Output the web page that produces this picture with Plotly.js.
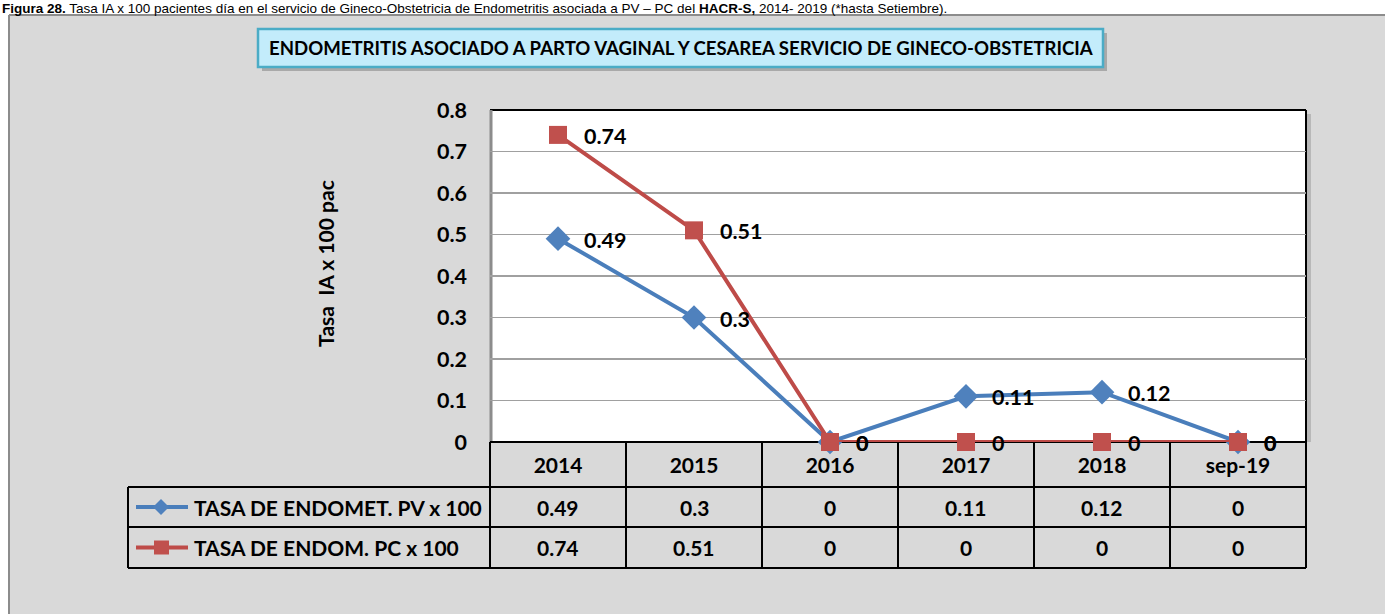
<!DOCTYPE html>
<html><head><meta charset="utf-8">
<script src="https://cdn.plot.ly/plotly-3.0.1.min.js"></script>
<style>html,body{margin:0;padding:0;background:#fff;overflow:hidden}#chart{width:1385px;height:614px}</style>
</head><body><div id="chart"></div>
<script>
// ---- data ----
const categories = ['2014', '2015', '2016', '2017', '2018', 'sep-19'];
const pvValues = [0.49, 0.3, 0, 0.11, 0.12, 0];
const pcValues = [0.74, 0.51, 0, 0, 0, 0];
const seriesNames = ['TASA DE ENDOMET. PV x 100', 'TASA DE ENDOM. PC x 100'];
const yTickVals = [0, 0.1, 0.2, 0.3, 0.4, 0.5, 0.6, 0.7, 0.8];
const chartTitle = 'ENDOMETRITIS ASOCIADO A PARTO VAGINAL Y CESAREA SERVICIO DE GINECO-OBSTETRICIA';
const yTitle = 'Tasa\u00a0 IA x 100 pac';
const captionText = '<b>Figura 28.</b> Tasa IA x 100 pacientes día en el servicio de Gineco-Obstetricia de Endometritis asociada a PV – PC del <b>HACR-S,</b> 2014- 2019 (*hasta Setiembre).';

// ---- styles ----
const W = 1385, H = 614;
const L = 490, R = 1306, T = 110, B = 442;
const FONT = 'Lato, Carlito, "Open Sans", sans-serif';
const blue = '#4f81bd', red = '#c0504d';
const px = x => (x - L) / (R - L);
const py = y => (B - y) / (B - T);

const series = [
  {name: seriesNames[0], values: pvValues, color: blue, symbol: 'diamond', size: 19, lineColor: '#4a7ebb'},
  {name: seriesNames[1], values: pcValues, color: red, symbol: 'square', size: 18, lineColor: '#be4b48'}
];

const traces = series.map(s => ({
  type: 'scatter', mode: 'lines+markers', name: s.name,
  x: categories, y: s.values, cliponaxis: false,
  line: {color: s.lineColor, width: 4},
  marker: {symbol: s.symbol, size: s.size, color: s.color},
  hoverinfo: 'x+y'
}));

const shapes = [];
const rect = (x0, y0, x1, y1, fill, line, lw) => shapes.push({type: 'rect', xref: 'paper', yref: 'paper', layer: 'below',
  x0: px(x0), x1: px(x1), y0: py(y0), y1: py(y1), fillcolor: fill, line: {color: line || 'rgba(0,0,0,0)', width: lw || 0}});
const seg = (x0, y0, x1, y1, color, w, layer) => shapes.push({type: 'line', xref: 'paper', yref: 'paper', layer: layer || 'below',
  x0: px(x0), x1: px(x1), y0: py(y0), y1: py(y1), line: {color: color, width: w}});

// outer gray frame
rect(9, 15, 1400, 630, '#d9d9d9');
seg(9, 15, 9, 630, '#8c8c8c', 2);
seg(9, 15, 1400, 15, '#8c8c8c', 2);
// title box (shadow + box)
rect(262, 33, 1107, 71, '#a9a9a9');
rect(258, 29, 1103, 67, '#c3ecfb', '#4bacc6', 2.5);
// plot area shadow and white background
rect(1306, 114, 1311, 442, '#b8b8b8');
rect(L, T, R, B, '#ffffff');
// plot borders
seg(L, T, R, T, '#000', 2);
seg(R, T, R, B, '#000', 2);
seg(L + 1, T, L + 1, B, '#8c8c8c', 3);
// data table grid
const colW = (R - L) / categories.length;
const rowY = [B, 487, 527, 568];
seg(L, B, R, B, '#000', 2);
for (let r = 1; r < rowY.length; r++) seg(128, rowY[r], R, rowY[r], '#000', 2);
seg(128, rowY[1], 128, rowY[3], '#000', 2);
for (let c = 0; c <= categories.length; c++) seg(L + c * colW, B, L + c * colW, rowY[3], '#000', 2);

// legend samples in the table
const legendMid = [(rowY[1] + rowY[2]) / 2, (rowY[2] + rowY[3]) / 2];
series.forEach((s, i) => {
  const yc = legendMid[i];
  seg(136, yc, 188, yc, s.lineColor, 4);
  if (s.symbol === 'diamond') {
    const cx = 161, h = 8;
    shapes.push({type: 'path', xref: 'paper', yref: 'paper', layer: 'below',
      path: `M ${px(cx)} ${py(yc - h)} L ${px(cx + h)} ${py(yc)} L ${px(cx)} ${py(yc + h)} L ${px(cx - h)} ${py(yc)} Z`,
      fillcolor: s.color, line: {width: 0}});
  } else {
    rect(154, yc - 7, 169, yc + 7, s.color);
  }
});

const annotations = [];
// caption at top
annotations.push({xref: 'paper', yref: 'paper', x: px(0), y: py(-1), xanchor: 'left', yanchor: 'top',
  text: captionText, showarrow: false, font: {family: 'Liberation Sans, Arial, sans-serif', size: 13.5, color: '#000'}});
// chart title
annotations.push({xref: 'paper', yref: 'paper', x: px(681), y: py(48), xanchor: 'center', yanchor: 'middle',
  text: '<b>' + chartTitle + '</b>', showarrow: false, font: {family: FONT, size: 18.6, color: '#000'}});
// data labels (x as category index)
series.forEach(s => s.values.forEach((v, j) => {
  annotations.push({xref: 'x', yref: 'y', x: j, y: v, xanchor: 'left', yanchor: 'middle',
    xshift: 24, yshift: -1, text: '<b>' + v + '</b>', showarrow: false, font: {family: FONT, size: 21.5, color: '#000'}});
}));
// table values & legend names
series.forEach((s, i) => {
  const yc = legendMid[i];
  annotations.push({xref: 'paper', yref: 'paper', x: px(192), y: py(yc), xanchor: 'left', yanchor: 'middle',
    text: '<b>' + s.name + '</b>', showarrow: false, font: {family: FONT, size: 21, color: '#000'}});
  s.values.forEach((v, j) => {
    annotations.push({xref: 'x', yref: 'paper', x: j, y: py(yc), xanchor: 'center', yanchor: 'middle',
      text: '<b>' + v + '</b>', showarrow: false, font: {family: FONT, size: 21, color: '#000'}});
  });
});

const layout = {
  width: W, height: H,
  margin: {l: L, r: W - R, t: T, b: H - B, pad: 0},
  paper_bgcolor: '#ffffff', plot_bgcolor: 'rgba(0,0,0,0)',
  showlegend: false,
  xaxis: {type: 'category', range: [-0.5, categories.length - 0.5], showgrid: false, zeroline: false,
    showline: false, ticks: '', ticklabelstandoff: 9, layer: 'below traces',
    tickfont: {family: FONT, size: 21, color: '#000', weight: 'bold'}, fixedrange: true},
  yaxis: {range: [0, 0.8], tickvals: yTickVals, ticktext: yTickVals.map(v => String(v)), showgrid: true,
    gridcolor: '#a0a0a0', gridwidth: 1.5, zeroline: false, showline: false, ticks: '', ticklabelstandoff: 22,
    layer: 'below traces',
    tickfont: {family: FONT, size: 21.5, color: '#000', weight: 'bold'},
    title: {text: '<b>\u00a0\u00a0\u00a0\u00a0\u00a0' + yTitle + '</b>', standoff: 96, font: {family: FONT, size: 21, color: '#000'}},
    fixedrange: true},
  shapes: shapes, annotations: annotations
};

Plotly.newPlot('chart', traces, layout, {displayModeBar: false, staticPlot: true});
</script></body></html>
